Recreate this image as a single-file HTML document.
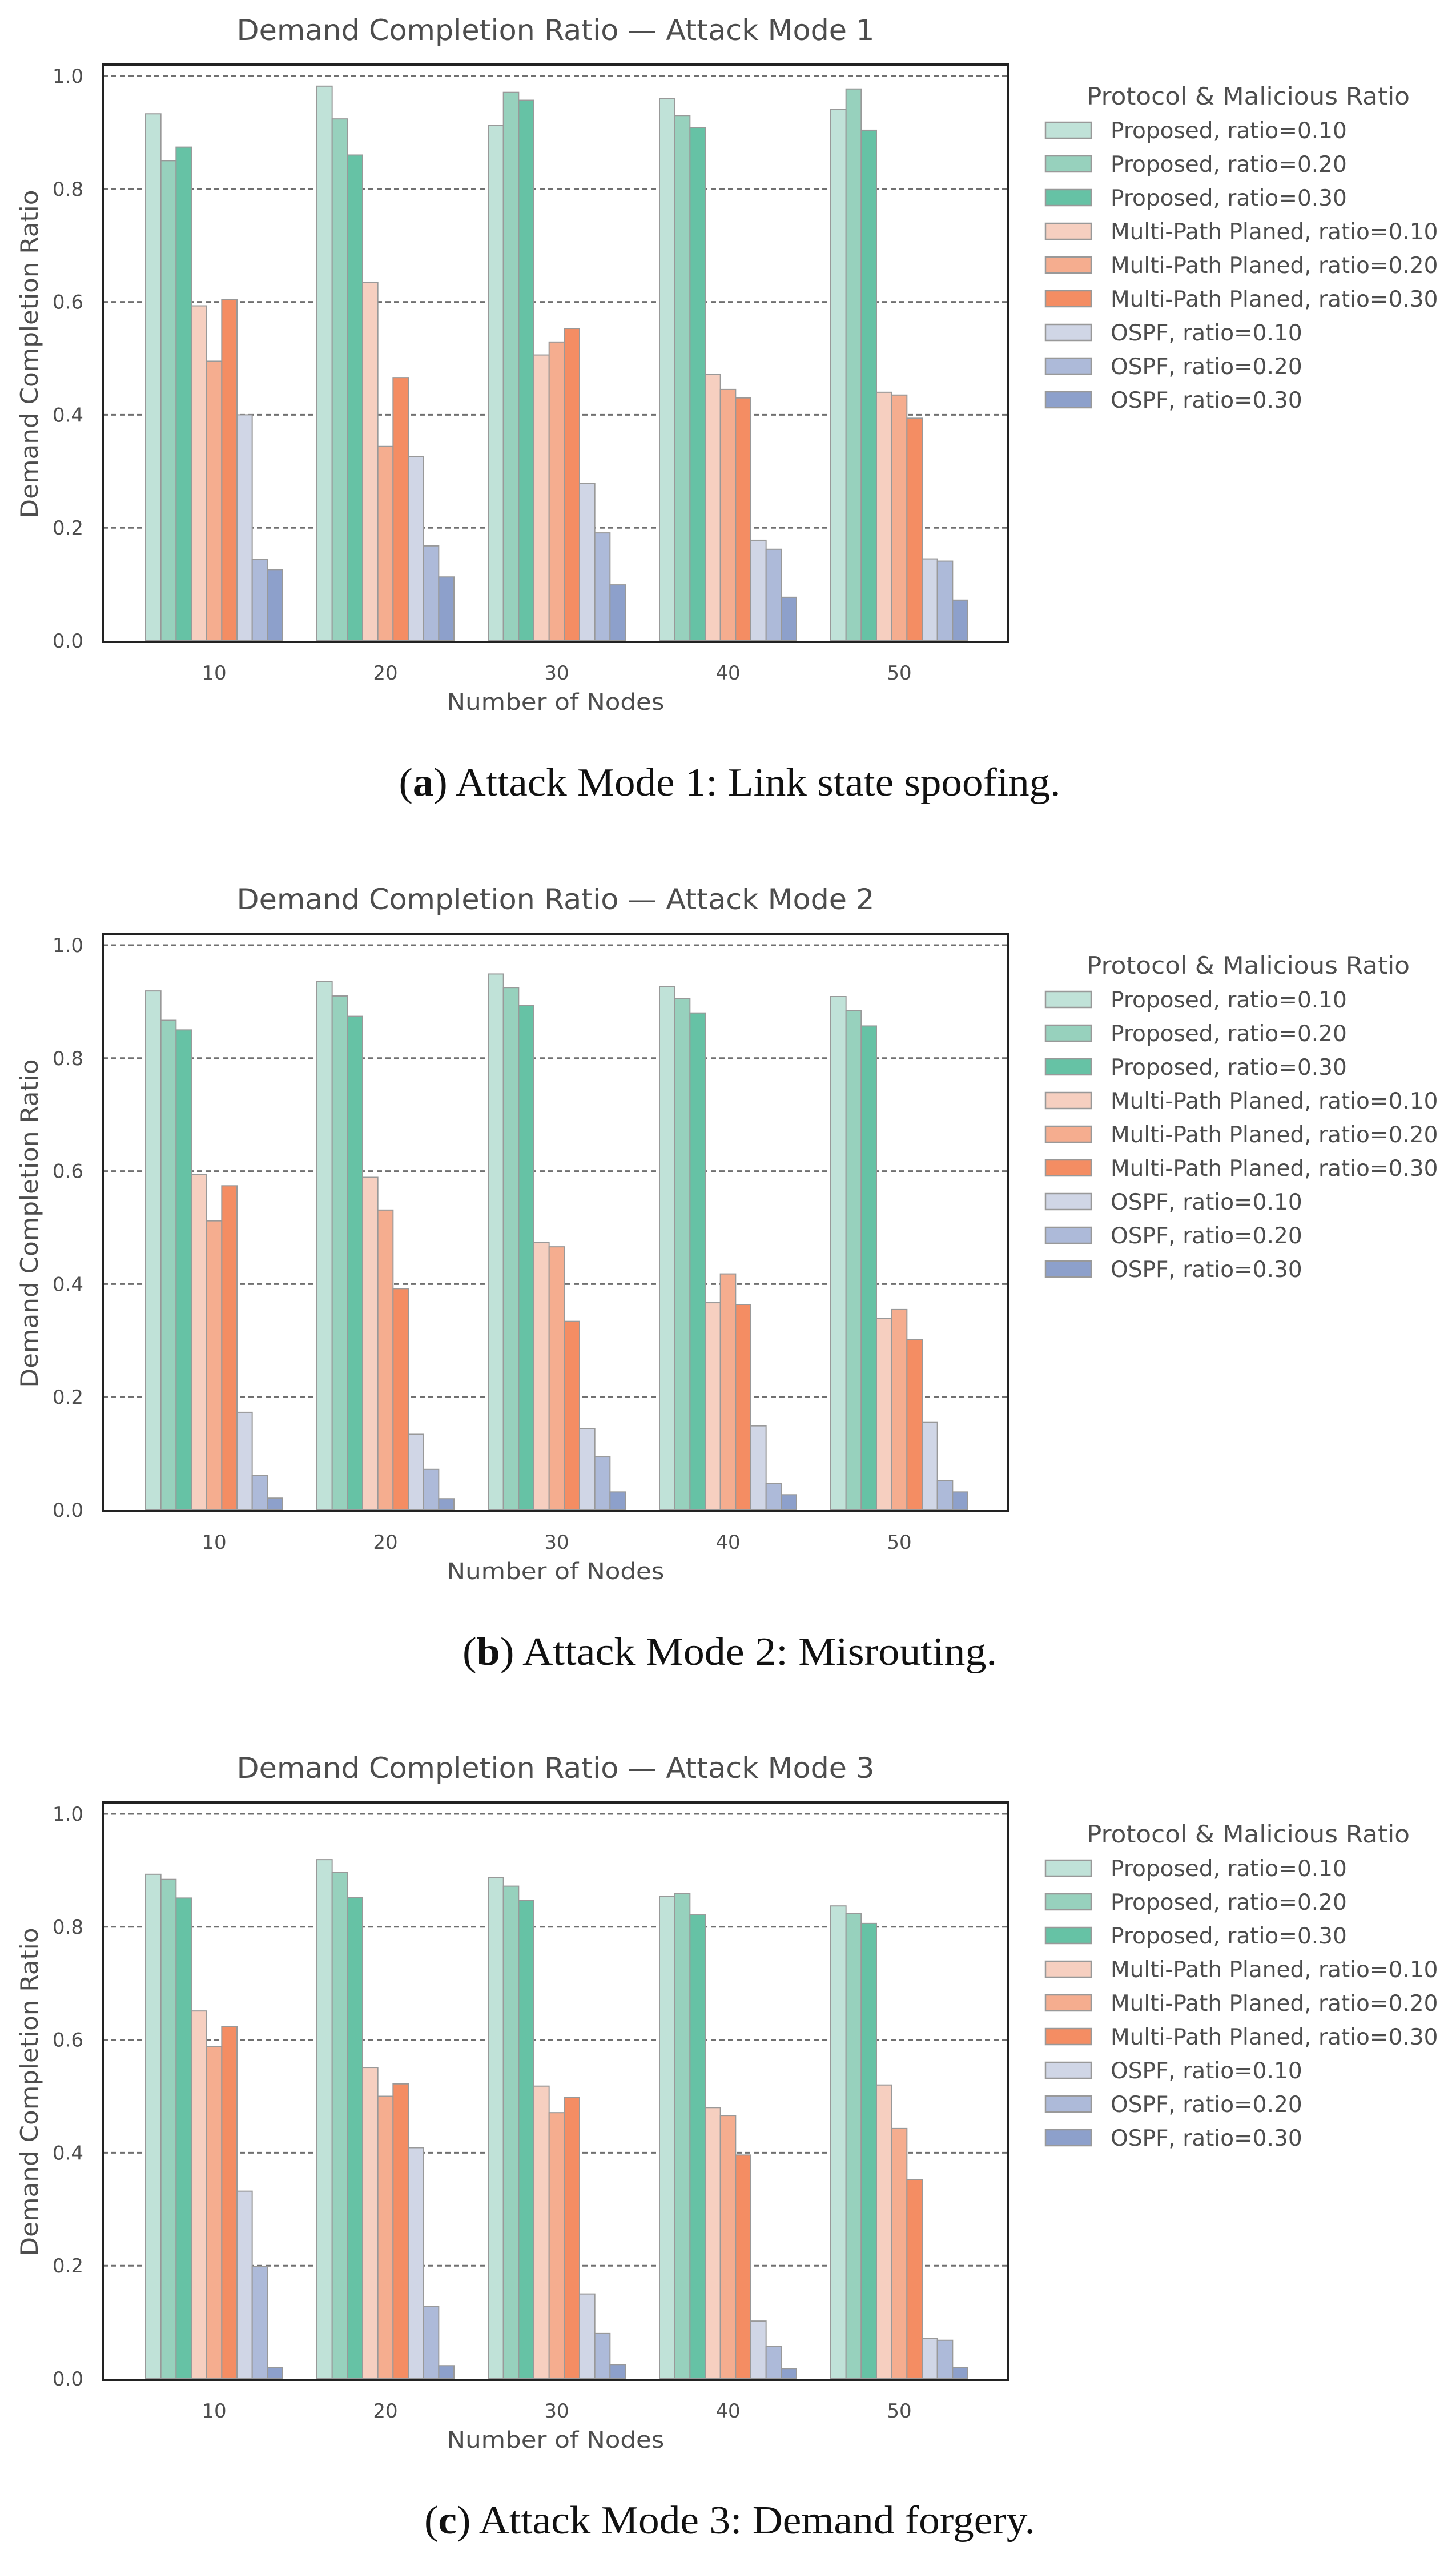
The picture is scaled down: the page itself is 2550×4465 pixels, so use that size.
<!DOCTYPE html>
<html><head><meta charset="utf-8"><style>
html,body{margin:0;padding:0;background:#fff;}
svg{display:block;}
text{font-family:"DejaVu Sans","Liberation Sans",sans-serif;fill:#4d4d4d;}
.cap{font-family:"Liberation Serif",serif;fill:#111;}
</style></head><body>
<svg id="fig" width="2550" height="4465" viewBox="0 0 2550 4465" xmlns="http://www.w3.org/2000/svg"></svg>
<script>
const categories = ["10","20","30","40","50"];
const seriesNames = ["Proposed, ratio=0.10","Proposed, ratio=0.20","Proposed, ratio=0.30","Multi-Path Planed, ratio=0.10","Multi-Path Planed, ratio=0.20","Multi-Path Planed, ratio=0.30","OSPF, ratio=0.10","OSPF, ratio=0.20","OSPF, ratio=0.30"];
const seriesColors = ["#c0e2d8","#97d1bd","#66c2a5","#f6cfc0","#f5ad8f","#f48d63","#d0d6e6","#adbad9","#8da0cb"];
const yTicks = [0.0,0.2,0.4,0.6,0.8,1.0];
const yTickLabels = ["0.0","0.2","0.4","0.6","0.8","1.0"];
// values per category (rows) per series (cols)
const mode1 = [
 [0.933,0.850,0.874,0.593,0.495,0.604,0.400,0.144,0.126],
 [0.982,0.924,0.860,0.635,0.344,0.466,0.326,0.168,0.113],
 [0.913,0.971,0.957,0.506,0.529,0.553,0.279,0.191,0.099],
 [0.960,0.930,0.909,0.472,0.445,0.430,0.178,0.162,0.077],
 [0.941,0.977,0.904,0.440,0.435,0.394,0.145,0.141,0.072]];
const mode2 = [
 [0.919,0.867,0.850,0.594,0.512,0.574,0.173,0.061,0.021],
 [0.936,0.910,0.874,0.589,0.531,0.392,0.134,0.072,0.020],
 [0.949,0.925,0.893,0.474,0.466,0.334,0.144,0.094,0.032],
 [0.927,0.905,0.880,0.367,0.418,0.364,0.149,0.047,0.027],
 [0.909,0.884,0.857,0.339,0.355,0.302,0.155,0.052,0.032]];
const mode3 = [
 [0.893,0.884,0.851,0.651,0.588,0.623,0.332,0.199,0.020],
 [0.919,0.896,0.852,0.551,0.500,0.522,0.409,0.128,0.023],
 [0.887,0.872,0.847,0.518,0.471,0.498,0.150,0.080,0.025],
 [0.854,0.859,0.821,0.480,0.466,0.396,0.102,0.057,0.018],
 [0.837,0.824,0.806,0.520,0.443,0.352,0.071,0.068,0.020]];
const titles = ["Demand Completion Ratio \u2014 Attack Mode 1","Demand Completion Ratio \u2014 Attack Mode 2","Demand Completion Ratio \u2014 Attack Mode 3"];
const captionLabels = ["a","b","c"];
const captionTexts = [" Attack Mode 1: Link state spoofing."," Attack Mode 2: Misrouting."," Attack Mode 3: Demand forgery."];
const captionWidths = [1159,936,1070];

const NS="http://www.w3.org/2000/svg";
const svg=document.getElementById('fig');
function mk(tag,attrs,parent,txt){const e=document.createElementNS(NS,tag);for(const k in attrs)e.setAttribute(k,attrs[k]);if(txt!==undefined)e.textContent=txt;parent.appendChild(e);return e;}

const offsets=[0,1522,3043];
const datasets=[mode1,mode2,mode3];
const L=180,R=1765,T=113,B=1124;
datasets.forEach((data,ci)=>{
  const oy=offsets[ci];
  const g=mk('g',{transform:`translate(0,${oy})`},svg);
  
  
  const yS=v=>1122-(v)*989;
  const xC=i=>375+300*i;
  const bw=240/seriesNames.length;
  const t=mk('text',{x:973,y:70,'text-anchor':'middle','font-size':50,textLength:1117,lengthAdjust:'spacingAndGlyphs'},g,titles[ci]);
  
  
  // grid
  yTicks.forEach((v,k)=>{
    if(v>0){const gl=mk('line',{x1:L,x2:R,y1:yS(v),y2:yS(v),stroke:'#707070','stroke-width':3,'stroke-dasharray':'9,6'},g);
    
    }
    const tl=mk('text',{x:146,y:yS(v)+12,'text-anchor':'end','font-size':34},g,yTickLabels[k]);
    
    
  });
  // bars
  data.forEach((row,i)=>{
    row.forEach((v,j)=>{
      const x=xC(i)-120+j*bw;
      const r=mk('rect',{x:x,y:yS(v),width:bw,height:yS(0)-yS(v),fill:seriesColors[j],stroke:'#999','stroke-width':2},g);
      
      
    });
    const xl=mk('text',{x:xC(i),y:1190,'text-anchor':'middle','font-size':34},g,categories[i]);
    
    
  });
  const fr=mk('rect',{x:L,y:T,width:R-L,height:B-T,fill:'none',stroke:'#222','stroke-width':4},g);
  
  
  const xt=mk('text',{x:973,y:1243,'text-anchor':'middle','font-size':40,textLength:381,lengthAdjust:'spacingAndGlyphs'},g,'Number of Nodes');
  
  
  const yt=mk('text',{x:0,y:0,'text-anchor':'middle','font-size':42,textLength:575,lengthAdjust:'spacingAndGlyphs',transform:'translate(66,620) rotate(-90)'},g,'Demand Completion Ratio');
  
  
  // legend
  const lt=mk('text',{x:2186,y:183,'text-anchor':'middle','font-size':42,textLength:566,lengthAdjust:'spacingAndGlyphs'},g,'Protocol & Malicious Ratio');
  
  
  seriesNames.forEach((n,j)=>{
    const y0=214+59*j;
    const p=mk('rect',{x:1831,y:y0,width:80,height:28,fill:seriesColors[j],stroke:'#999','stroke-width':2.5},g);
    
    
    const tx=mk('text',{x:1945,y:y0+28,'font-size':39},g,n);
    
    
  });
  // caption
  const c=mk('text',{class:'cap',x:1278,y:1393,'text-anchor':'middle','font-size':70,textLength:captionWidths[ci],lengthAdjust:'spacingAndGlyphs'},g);
  
  
  mk('tspan',{},c,'(');
  mk('tspan',{'font-weight':'bold'},c,captionLabels[ci]);
  mk('tspan',{},c,')'+captionTexts[ci]);
});
</script>
</body></html>
